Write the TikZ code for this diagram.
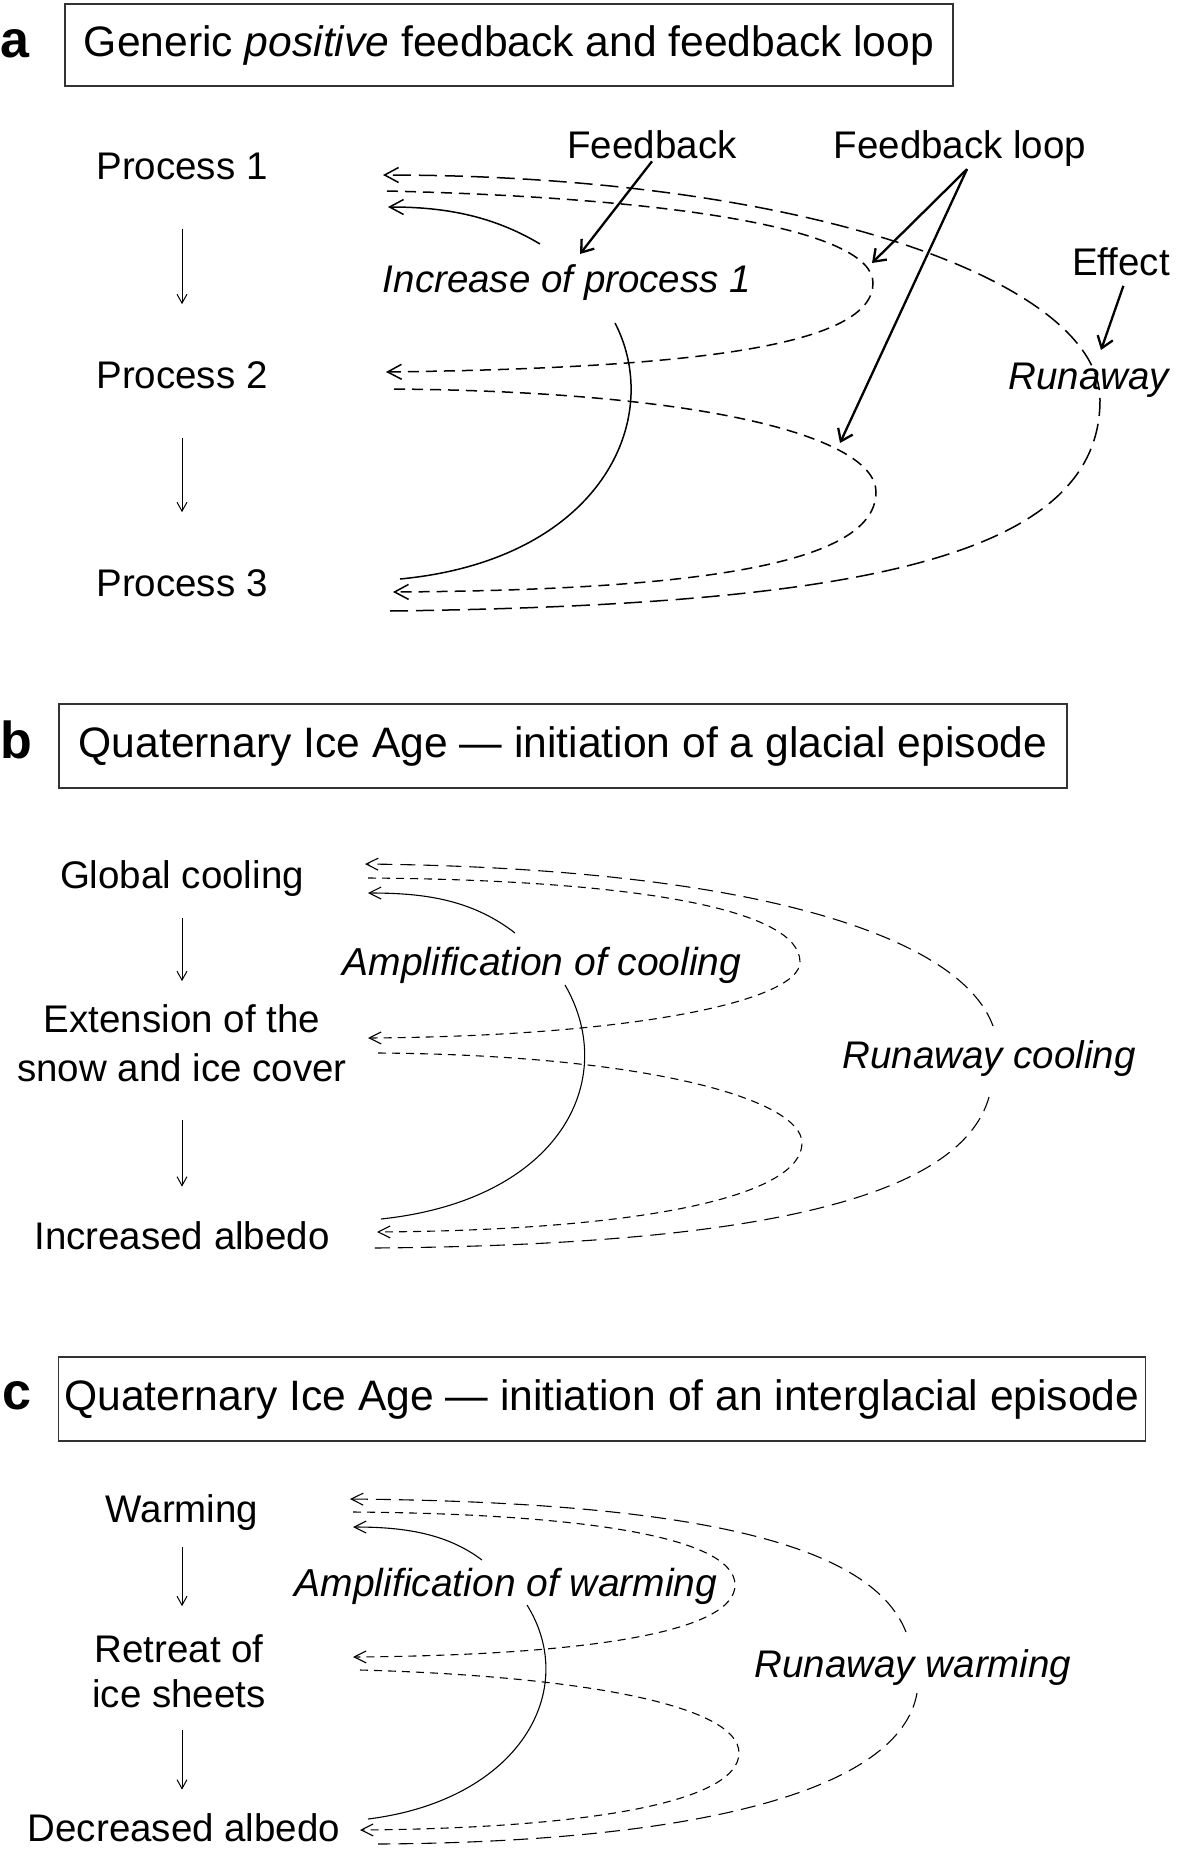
\documentclass[tikz,border=0pt]{standalone}
\usepackage{fontspec}
\setmainfont{Liberation Sans}
\usetikzlibrary{arrows.meta}

\begin{document}
\begin{tikzpicture}[x=1pt, y=-1pt,
    proc/.style={inner sep=2pt, font=\fontsize{38.5}{47}\selectfont},
    note/.style={inner sep=2pt, font=\fontsize{38.5}{47}\selectfont\itshape},
    ampnote/.style={inner sep=2pt, font=\fontsize{39}{47}\selectfont\itshape},
    tag/.style={inner sep=0pt, font=\fontsize{52}{60}\selectfont\bfseries},
    titlebox/.style={draw=black!80, line width=1.4pt, inner sep=0pt, font=\fontsize{42.6}{50}\selectfont},
    down/.style={line width=1pt, -{Straight Barb[length=9pt,width=10pt]}},
    pointer/.style={line width=2.3pt, -{Straight Barb[length=11pt,width=16pt]}},
    solidA/.style={line width=1.5pt},
    shortA/.style={line width=1.5pt, dash pattern=on 11pt off 7pt},
    longA/.style={line width=1.5pt, dash pattern=on 18pt off 8pt},
    tipA/.style={-{Straight Barb[length=14pt,width=15pt]}},
    solidB/.style={line width=1.1pt},
    shortB/.style={line width=1.1pt, dash pattern=on 8pt off 6pt},
    longB/.style={line width=1.1pt, dash pattern=on 15pt off 8pt},
    tipB/.style={-{Straight Barb[length=12pt,width=12pt]}}]

\useasboundingbox (0,0) rectangle (1183,1854);

% ---------------- panel a ----------------
\node[tag] (tagA) at (15,44) {a};
\node[titlebox, minimum width=888pt, minimum height=82pt] (titleA) at (509,45)
    {Generic \textit{positive} feedback and feedback loop};

% chain of processes
\node[proc] (p1) at (182,166) {Process 1};
\node[proc] (p2) at (182,375) {Process 2};
\node[proc] (p3) at (182,583) {Process 3};
\draw[down, shorten <=47pt, shorten >=55pt] (p1) -- (p2);
\draw[down, shorten <=47pt, shorten >=55pt] (p2) -- (p3);

% labels
\node[proc] (fb) at (652,145) {Feedback};
\node[proc] (fl) at (960,149) {Feedback loop};
\node[proc] (eff) at (1121,262) {Effect};
\node[note] (inc) at (567,283) {Increase of process 1};
\node[note] (run) at (1089,380) {Runaway};

% feedback (solid, broken at the label)
\coordinate (aSolTip) at (388,207);
\coordinate (aSolEnd) at (400,579);
\draw[solidA, tipA] (540,244) .. controls (490,214) and (440,207) .. (aSolTip);
\draw[solidA] (615,323) .. controls (665,420) and (600,560) .. (aSolEnd);

% feedback loop (short dashes)
\coordinate (aLoopStartA) at (387,191);
\coordinate (aLoopTipA) at (386,372);
\coordinate (aLoopStartB) at (394,389);
\coordinate (aLoopTipB) at (393,592);
\draw[shortA, tipA] (aLoopStartA) .. controls (680,198) and (873,230) .. (873,283)
    .. controls (873,345) and (700,368) .. (aLoopTipA);
\draw[shortA, tipA] (aLoopStartB) .. controls (720,392) and (876,440) .. (876,492)
    .. controls (876,560) and (720,590) .. (aLoopTipB);

% runaway (long dashes)
\coordinate (aRunStart) at (390,611);
\coordinate (aRunTip) at (383,175);
\draw[longA, tipA] (aRunStart) .. controls (850,605) and (1100,560) .. (1100,400)
    .. controls (1100,280) and (800,175) .. (aRunTip);

% pointers
\coordinate (fbTip) at (580,254);
\coordinate (flTipA) at (872,263);
\coordinate (flTipB) at (840,443);
\coordinate (effTip) at (1101,350);
\draw[pointer] (fb.south) -- (fbTip);
\draw[pointer] ([xshift=7pt]fl.south) -- (flTipA);
\draw[pointer] ([xshift=7pt]fl.south) -- (flTipB);
\draw[pointer, shorten <=8pt] ([xshift=5pt]eff.south) -- (effTip);

% ---------------- panel b ----------------
\node[tag] (tagB) at (16,740) {b};
\node[titlebox, minimum width=1008pt, minimum height=84pt] (titleB) at (563,746)
    {Quaternary Ice Age --- initiation of a glacial episode};

\node[proc] (gc) at (182,879) {Global cooling};
\node[proc, align=center, font=\fontsize{38.5}{49}\selectfont] (ext) at (182,1043)
    {Extension of the\\snow and ice cover};
\node[proc] (ia) at (182,1236) {Increased albedo};
\draw[down, shorten <=19pt, shorten >=21pt] (gc) -- (ext);
\draw[down, shorten <=36pt, shorten >=33pt] (ext) -- (ia);

\node[ampnote] (ampc) at (542,965) {Amplification of cooling};
\node[note] (runc) at (989,1059) {Runaway cooling};

% feedback
\coordinate (bSolTip) at (368,893);
\coordinate (bSolEnd) at (381,1219);
\draw[solidB, tipB] (515,933) .. controls (470,898) and (420,893) .. (bSolTip);
\draw[solidB] (565,985) .. controls (620,1080) and (560,1200) .. (bSolEnd);

% feedback loop
\coordinate (bLoopStartA) at (368,878);
\coordinate (bLoopTipA) at (368,1038);
\coordinate (bLoopStartB) at (378,1053);
\coordinate (bLoopTipB) at (377,1232);
\draw[shortB, tipB] (bLoopStartA) .. controls (640,880) and (800,910) .. (800,962)
    .. controls (800,1000) and (640,1036) .. (bLoopTipA);
\draw[shortB, tipB] (bLoopStartB) .. controls (650,1055) and (802,1100) .. (802,1143)
    .. controls (802,1195) and (650,1230) .. (bLoopTipB);

% runaway (broken at the label)
\coordinate (bRunStart) at (374,1248);
\coordinate (bRunTip) at (365,864);
\draw[longB, tipB] (993,1026) .. controls (960,935) and (750,868) .. (bRunTip);
\draw[longB] (989,1097) .. controls (960,1200) and (750,1245) .. (bRunStart);

% ---------------- panel c ----------------
\node[tag] (tagC) at (17,1396) {c};
\node[titlebox, minimum width=1087pt, minimum height=84pt] (titleC) at (602,1399)
    {Quaternary Ice Age --- initiation of an interglacial episode};

\node[proc] (warm) at (182,1513) {Warming};
\node[proc, align=center, font=\fontsize{38.5}{45}\selectfont] (ret) at (179,1671)
    {Retreat of\\ice sheets};
\node[proc] (da) at (184,1828) {Decreased albedo};
\draw[down, shorten <=14pt, shorten >=26pt] (warm) -- (warm |- ret.north);
\draw[down, shorten <=20pt, shorten >=22pt] (warm |- ret.south) -- (warm |- da.north);

\node[ampnote] (ampw) at (506,1586) {Amplification of warming};
\node[note] (runw) at (913,1668) {Runaway warming};

% feedback
\coordinate (cSolTip) at (353,1527);
\coordinate (cSolEnd) at (368,1819);
\draw[solidB, tipB] (482,1560) .. controls (445,1532) and (400,1527) .. (cSolTip);
\draw[solidB] (527,1605) .. controls (580,1690) and (520,1800) .. (cSolEnd);

% feedback loop
\coordinate (cLoopStartA) at (353,1512);
\coordinate (cLoopTipA) at (353,1657);
\coordinate (cLoopStartB) at (360,1670);
\coordinate (cLoopTipB) at (360,1830);
\draw[shortB, tipB] (cLoopStartA) .. controls (600,1514) and (735,1540) .. (735,1585)
    .. controls (735,1630) and (600,1655) .. (cLoopTipA);
\draw[shortB, tipB] (cLoopStartB) .. controls (580,1676) and (739,1705) .. (739,1753)
    .. controls (739,1800) and (600,1828) .. (cLoopTipB);

% runaway
\coordinate (cRunStart) at (378,1844);
\coordinate (cRunTip) at (350,1499);
\draw[longB, tipB] (906,1632) .. controls (870,1540) and (680,1502) .. (cRunTip);
\draw[longB] (917,1693) .. controls (900,1790) and (700,1842) .. (cRunStart);

\end{tikzpicture}
\end{document}
